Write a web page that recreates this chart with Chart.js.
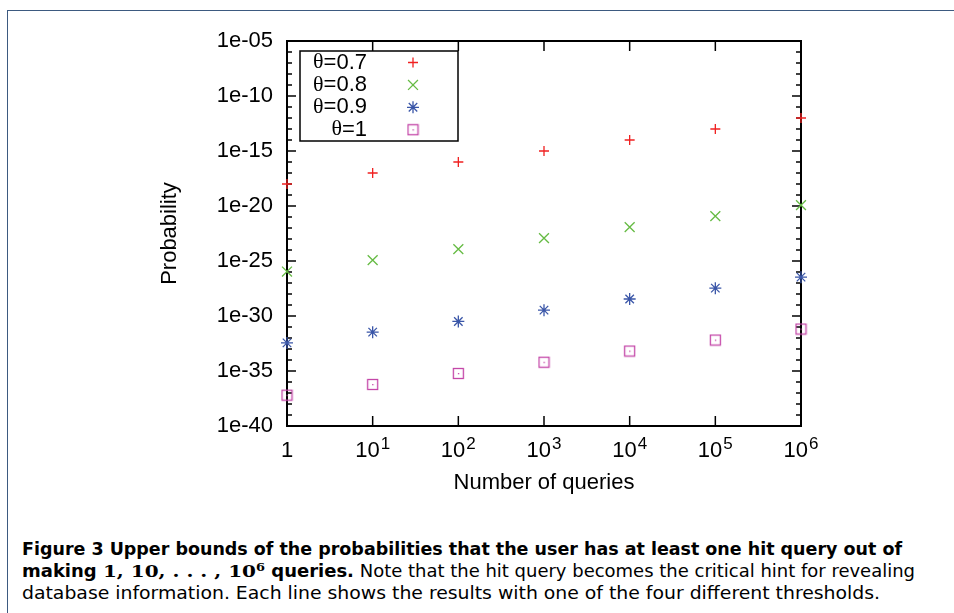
<!DOCTYPE html>
<html>
<head>
<meta charset="utf-8">
<script src="https://cdn.jsdelivr.net/npm/chart.js@4.4.0/dist/chart.umd.min.js"></script>
<style>
  html, body { margin: 0; padding: 0; background: #fff; }
  body { width: 954px; height: 613px; position: relative; overflow: hidden; }
  .frame-top { position: absolute; left: 7px; top: 10px; width: 947px; height: 0; border-top: 1.5px solid #3d5a80; }
  .frame-left { position: absolute; left: 7px; top: 10px; width: 0; height: 603px; border-left: 1.5px solid #3d5a80; }
  #wrap { position: absolute; left: 0; top: 0; width: 954px; height: 500px; }
  .cap { position: absolute; left: 22px; font-family: "DejaVu Sans Condensed", "Liberation Sans Narrow", sans-serif;
         font-size: 17px; line-height: 22px; white-space: nowrap; transform-origin: 0 0; color: #000; }
  .cap b { font-weight: bold; }
  .m { font-family: "DejaVu Serif", "Liberation Serif", serif; font-weight: bold; }
  .m sup { font-size: 11px; vertical-align: 6px; line-height: 0; }
</style>
</head>
<body>
<div class="frame-top"></div>
<div class="frame-left"></div>
<div id="wrap"><canvas id="myChart" width="954" height="500"></canvas></div>

<div class="cap" style="top:538px" data-w="880"><b>Figure 3  Upper bounds of the probabilities that the user has at least one hit query out of</b></div>
<div class="cap" style="top:560px" data-w="893"><b>making <span class="m">1, 10, . . . , 10<sup>6</sup></span> queries.</b> Note that the hit query becomes the critical hint for revealing</div>
<div class="cap" style="top:582px" data-w="858">database information. Each line shows the results with one of the four different thresholds.</div>

<script>
// данные
const queries = [1, 10, 100, 1e3, 1e4, 1e5, 1e6];
const seriesNames = ['θ=0.7', 'θ=0.8', 'θ=0.9', 'θ=1'];
const probTheta07 = [1e-18, 1e-17, 1e-16, 1e-15, 1e-14, 1e-13, 1e-12];
const probTheta08 = [1.1e-26, 1.2e-25, 1.2e-24, 1.2e-23, 1.2e-22, 1.2e-21, 1.2e-20];
const probTheta09 = [3.6e-33, 3.4e-32, 3.2e-31, 3.4e-30, 3.5e-29, 3.4e-28, 3.4e-27];
const probTheta10 = [6.4e-38, 6.0e-37, 6.0e-36, 6.3e-35, 6.5e-34, 6.5e-33, 6.5e-32];
const xTickExp = [0, 1, 2, 3, 4, 5, 6];
const yMajorExp = [-5, -10, -15, -20, -25, -30, -35, -40];
const yTickLabels = ['1e-05', '1e-10', '1e-15', '1e-20', '1e-25', '1e-30', '1e-35', '1e-40'];

const SANS = "'Liberation Sans', Arial, sans-serif";
Chart.defaults.font.family = SANS;
Chart.defaults.color = '#000';

function squareDot(color) { // квадрат с точкой как в gnuplot
    const c = document.createElement('canvas');
    c.width = 13; c.height = 13;
    const g = c.getContext('2d');
    g.strokeStyle = color; g.lineWidth = 1.3;
    g.strokeRect(1.5, 1.5, 10, 10);
    g.fillStyle = color;
    g.fillRect(6, 6, 1.3, 1.3);
    return c;
}

const toPoints = vals => queries.map((q, i) => ({x: q, y: vals[i]}));

const datasets = [
    {label: seriesNames[0], data: toPoints(probTheta07), pointStyle: 'cross', pointRadius: 5, borderColor: '#f02020', backgroundColor: '#f02020'},
    {label: seriesNames[1], data: toPoints(probTheta08), pointStyle: 'crossRot', pointRadius: 7, borderColor: '#66bb44', backgroundColor: '#66bb44'},
    {label: seriesNames[2], data: toPoints(probTheta09), pointStyle: 'star', pointRadius: 6, borderColor: '#3a56a8', backgroundColor: '#3a56a8'},
    {label: seriesNames[3], data: toPoints(probTheta10), pointStyle: squareDot('#c447a8'), pointRadius: 6, borderColor: '#c447a8', backgroundColor: 'rgba(0,0,0,0)'}
];
datasets.forEach(d => { d.pointBorderWidth = 1.3; d.showLine = false; d.clip = false; });

const gnuplotFrame = {
    id: 'gnuplotFrame',
    beforeDatasetsDraw(chart) {
        const {ctx, chartArea: a, scales: {x, y}} = chart;
        const line = (x1, y1, x2, y2) => { ctx.beginPath(); ctx.moveTo(x1, y1); ctx.lineTo(x2, y2); ctx.stroke(); };
        ctx.save();
        ctx.strokeStyle = '#000';
        ctx.lineWidth = 1.5;
        y.ticks.forEach(t => {
            const py = y.getPixelForValue(t.value);
            const len = t.label ? 9 : 5;
            line(a.left, py, a.left + len, py);
            line(a.right, py, a.right - len, py);
        });
        x.ticks.forEach(t => {
            const px = x.getPixelForValue(t.value);
            line(px, a.bottom, px, a.bottom - 10);
            line(px, a.top, px, a.top + 10);
        });
        ctx.lineWidth = 2;
        ctx.strokeRect(a.left, a.top, a.right - a.left, a.bottom - a.top);

        // подписи оси X со степенями
        ctx.fillStyle = '#000';
        ctx.textBaseline = 'alphabetic';
        xTickExp.forEach(e => {
            const px = x.getPixelForValue(Math.pow(10, e));
            const base = a.bottom + 31;
            ctx.font = '22px ' + SANS;
            if (e === 0) {
                ctx.textAlign = 'center';
                ctx.fillText('1', px, base);
                return;
            }
            ctx.textAlign = 'left';
            const wBase = ctx.measureText('10').width;
            ctx.font = '17px ' + SANS;
            const wExp = ctx.measureText(String(e)).width;
            const start = px - (wBase + 1 + wExp) / 2;
            ctx.font = '22px ' + SANS;
            ctx.fillText('10', start, base);
            ctx.font = '17px ' + SANS;
            ctx.fillText(String(e), start + wBase + 1, base - 8);
        });
        ctx.restore();
    },
    afterDatasetsDraw(chart) {
        const {ctx, chartArea: a} = chart;
        const bx = a.left + 13, by = a.top + 10, bw = 158, bh = 90;
        ctx.save();
        ctx.fillStyle = '#fff';
        ctx.fillRect(bx, by, bw, bh);
        ctx.strokeStyle = '#000';
        ctx.lineWidth = 1.5;
        ctx.strokeRect(bx, by, bw, bh);
        ctx.textBaseline = 'middle';
        chart.data.datasets.forEach((ds, i) => {
            const cy = by + 11.5 + 22.4 * i;
            const greek = ds.label.charAt(0), rest = ds.label.slice(1);
            ctx.fillStyle = '#000';
            ctx.font = '22px ' + SANS;
            const wRest = ctx.measureText(rest).width;
            ctx.textAlign = 'right';
            ctx.fillText(rest, bx + 67, cy);
            ctx.font = '22px "Liberation Serif", "DejaVu Serif", serif';
            ctx.fillText(greek, bx + 67 - wRest, cy);
            ctx.strokeStyle = ds.borderColor;
            ctx.fillStyle = ds.backgroundColor;
            ctx.lineWidth = ds.pointBorderWidth;
            Chart.helpers.drawPoint(ctx, {pointStyle: ds.pointStyle, radius: ds.pointRadius, rotation: 0, borderWidth: ds.pointBorderWidth}, bx + 113, cy);
        });
        ctx.restore();
    }
};

const chart = new Chart(document.getElementById('myChart'), {
    type: 'scatter',
    data: {datasets},
    options: {
        responsive: false,
        animation: false,
        layout: {padding: {top: 41, right: 153, left: 150, bottom: 0}},
        plugins: {legend: {display: false}, tooltip: {enabled: false}},
        scales: {
            x: {
                type: 'logarithmic', min: 1, max: 1e6,
                afterBuildTicks: s => { s.ticks = xTickExp.map(e => ({value: Math.pow(10, e)})); },
                ticks: {display: false},
                grid: {display: false, drawTicks: false},
                border: {display: false},
                title: {display: true, text: 'Number of queries', color: '#000', font: {size: 22}, padding: {top: 0, bottom: 4}},
                afterFit: s => { s.height = 74; }
            },
            y: {
                type: 'logarithmic', min: 1e-40, max: 1e-5,
                afterBuildTicks: s => {
                    const t = [];
                    for (let e = -40; e <= -5; e++) t.push({value: Math.pow(10, e)});
                    s.ticks = t;
                },
                ticks: {
                    autoSkip: false, padding: 14, color: '#000', font: {size: 22},
                    callback: v => {
                        const idx = yMajorExp.indexOf(Math.round(Math.log10(v)));
                        return idx >= 0 ? yTickLabels[idx] : '';
                    }
                },
                grid: {display: false, drawTicks: false},
                border: {display: false},
                title: {display: true, text: 'Probability', color: '#000', font: {size: 22}, padding: {top: 7, bottom: 0}},
                afterFit: s => { s.width = 137; }
            }
        }
    },
    plugins: [gnuplotFrame]
});

// подгоняем ширину строк подписи
document.querySelectorAll('.cap').forEach(el => {
    const w = el.getBoundingClientRect().width;
    el.style.transform = 'scaleX(' + (Number(el.dataset.w) / w) + ')';
});
</script>
</body>
</html>
